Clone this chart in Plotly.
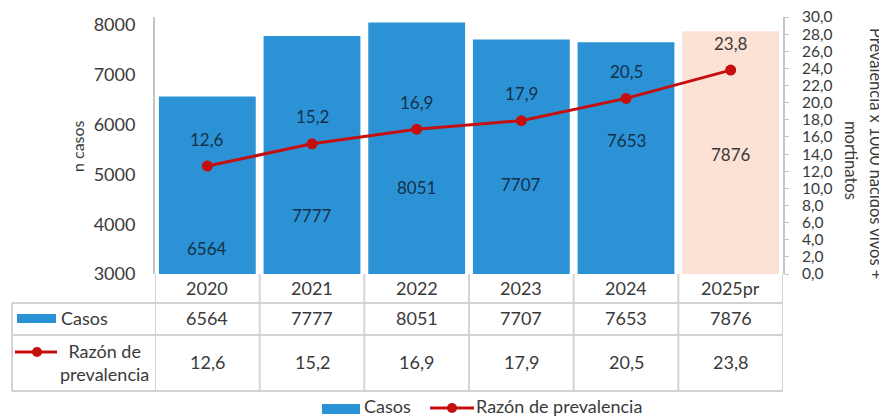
import plotly.graph_objects as go

# ---- data ----
years = ["2020", "2021", "2022", "2023", "2024", "2025pr"]
casos = [6564, 7777, 8051, 7707, 7653, 7876]
razon = [12.6, 15.2, 16.9, 17.9, 20.5, 23.8]

casos_txt = [str(v) for v in casos]
razon_txt = [f"{v:.1f}".replace(".", ",") for v in razon]

# ---- style ----
BLUE = "#2B93D5"
PEACH = "#FBE2D4"
RED = "#C50F0F"
GRID = "#d3d3d3"
TXT = "#3a3a3a"
DARK = "#15304a"
FONT = "Lato"

# the plot div sits at an 8px page offset (browser body margin)
OFF = 8
W, H = 887 - OFF, 417 - OFF
# plot area in page pixels
PL, PR, PT, PB = 155, 783, 17, 274
PW, PH = PR - PL, PB - PT

def px(p):
    return (p - PL) / PW

def py(p):
    return (PB - p) / PH

# style: pixel rows of manually placed bar labels
bar_label_rows = [248, 215, 187, 184, 140, 154]
bar_label_colors = [DARK] * 5 + [TXT]

fig = go.Figure()
fig.add_trace(go.Bar(
    x=years, y=casos,
    marker=dict(color=[BLUE] * 5 + [PEACH], line_width=0),
    hoverinfo="skip",
))
fig.add_trace(go.Scatter(
    x=years, y=razon, yaxis="y2", mode="lines+markers",
    line=dict(color=RED, width=3),
    marker=dict(color=RED, size=11),
    hoverinfo="skip",
))

ann = []
shapes = []

def txt(x, y, text, size=18, color=TXT, xref="paper", yref="paper",
        xanchor="center", yanchor="middle", **kw):
    ann.append(dict(x=x, y=y, xref=xref, yref=yref, text=text, showarrow=False,
                    xanchor=xanchor, yanchor=yanchor,
                    font=dict(size=size, color=color, family=FONT), **kw))

# labels on bars
for i, t in enumerate(casos_txt):
    txt(i, py(bar_label_rows[i]), t, size=17, color=bar_label_colors[i], xref="x")
# labels above line points
for i, t in enumerate(razon_txt):
    txt(i, razon[i], t, size=17, color=DARK if i < 5 else TXT, xref="x", yref="y2", yshift=27)

# axis titles
txt(px(77), py(146), "n casos", size=16, textangle=-90)
txt(px(876), py(153), "Prevalencia x 1000 nacidos vivos +", size=16.5, textangle=90)
txt(px(851), py(160), "mortinatos", size=16.5, textangle=90)

# ---- data table ----
row_header, row_casos, row_razon = 288, 318, 362
for i, y in enumerate(years):
    txt(i, py(row_header), y, xref="x")
    txt(i, py(row_casos), casos_txt[i], xref="x")
    txt(i, py(row_razon), razon_txt[i], xref="x")

for yy in (303, 335, 391):
    shapes.append(dict(type="line", xref="paper", yref="paper", x0=px(12), x1=1,
                       y0=py(yy), y1=py(yy), line=dict(color=GRID, width=2)))
shapes.append(dict(type="line", xref="paper", yref="paper", x0=px(12), x1=px(12),
                   y0=py(303), y1=py(391), line=dict(color=GRID, width=2)))
for k in range(len(years) + 1):
    shapes.append(dict(type="line", xref="x", yref="paper", x0=k - 0.5, x1=k - 0.5,
                       y0=py(274), y1=py(391), line=dict(color=GRID, width=2)))

# row keys
shapes.append(dict(type="rect", xref="paper", yref="paper", x0=px(17), x1=px(56),
                   y0=py(323), y1=py(314), fillcolor=BLUE, line_width=0))
txt(px(59), py(318), "Casos", xanchor="left")
shapes.append(dict(type="line", xref="paper", yref="paper", x0=px(15), x1=px(57),
                   y0=py(352), y1=py(352), line=dict(color=RED, width=3)))
shapes.append(dict(type="circle", xref="paper", yref="paper", x0=px(32), x1=px(42),
                   y0=py(357), y1=py(347), fillcolor=RED, line_width=0))
txt(px(104), py(362), "Razón de<br>prevalencia", align="center")

# ---- bottom legend ----
shapes.append(dict(type="rect", xref="paper", yref="paper", x0=px(322), x1=px(360),
                   y0=py(414), y1=py(404), fillcolor=BLUE, line_width=0))
txt(px(362), py(406), "Casos", xanchor="left")
shapes.append(dict(type="line", xref="paper", yref="paper", x0=px(430), x1=px(474),
                   y0=py(408), y1=py(408), line=dict(color=RED, width=3)))
shapes.append(dict(type="circle", xref="paper", yref="paper", x0=px(447), x1=px(457),
                   y0=py(413), y1=py(403), fillcolor=RED, line_width=0))
txt(px(474), py(406), "Razón de prevalencia", xanchor="left")

fig.update_layout(
    width=W, height=H,
    margin=dict(l=PL - OFF, r=W + OFF - PR, t=PT - OFF, b=H + OFF - PB, autoexpand=False),
    paper_bgcolor="white", plot_bgcolor="white",
    font=dict(family=FONT, color=TXT),
    separators=",.",
    showlegend=False,
    bargap=0.075,
    xaxis=dict(range=[-0.5, 5.5], showticklabels=False, showline=False,
               showgrid=False, zeroline=False, ticks="", automargin=False),
    yaxis=dict(range=[3000, 8160], tickvals=[3000, 4000, 5000, 6000, 7000, 8000],
               showline=True, linecolor="#c4c4c4", linewidth=2, showgrid=False,
               zeroline=False, ticks="", ticklabelstandoff=14, automargin=False,
               ticklabeloverflow="allow",
               tickfont=dict(size=18, color=TXT, family=FONT)),
    yaxis2=dict(range=[0, 30], dtick=2, tickformat=".1f", overlaying="y", side="right",
                showline=True, linecolor="#c4c4c4", linewidth=2, showgrid=False,
                zeroline=False, ticks="outside", ticklen=4, tickcolor="#c4c4c4",
                ticklabelstandoff=10, automargin=False, ticklabeloverflow="allow",
                tickfont=dict(size=15.5, color=TXT, family=FONT)),
    annotations=ann,
    shapes=shapes,
)

fig.write_html("out.html")
